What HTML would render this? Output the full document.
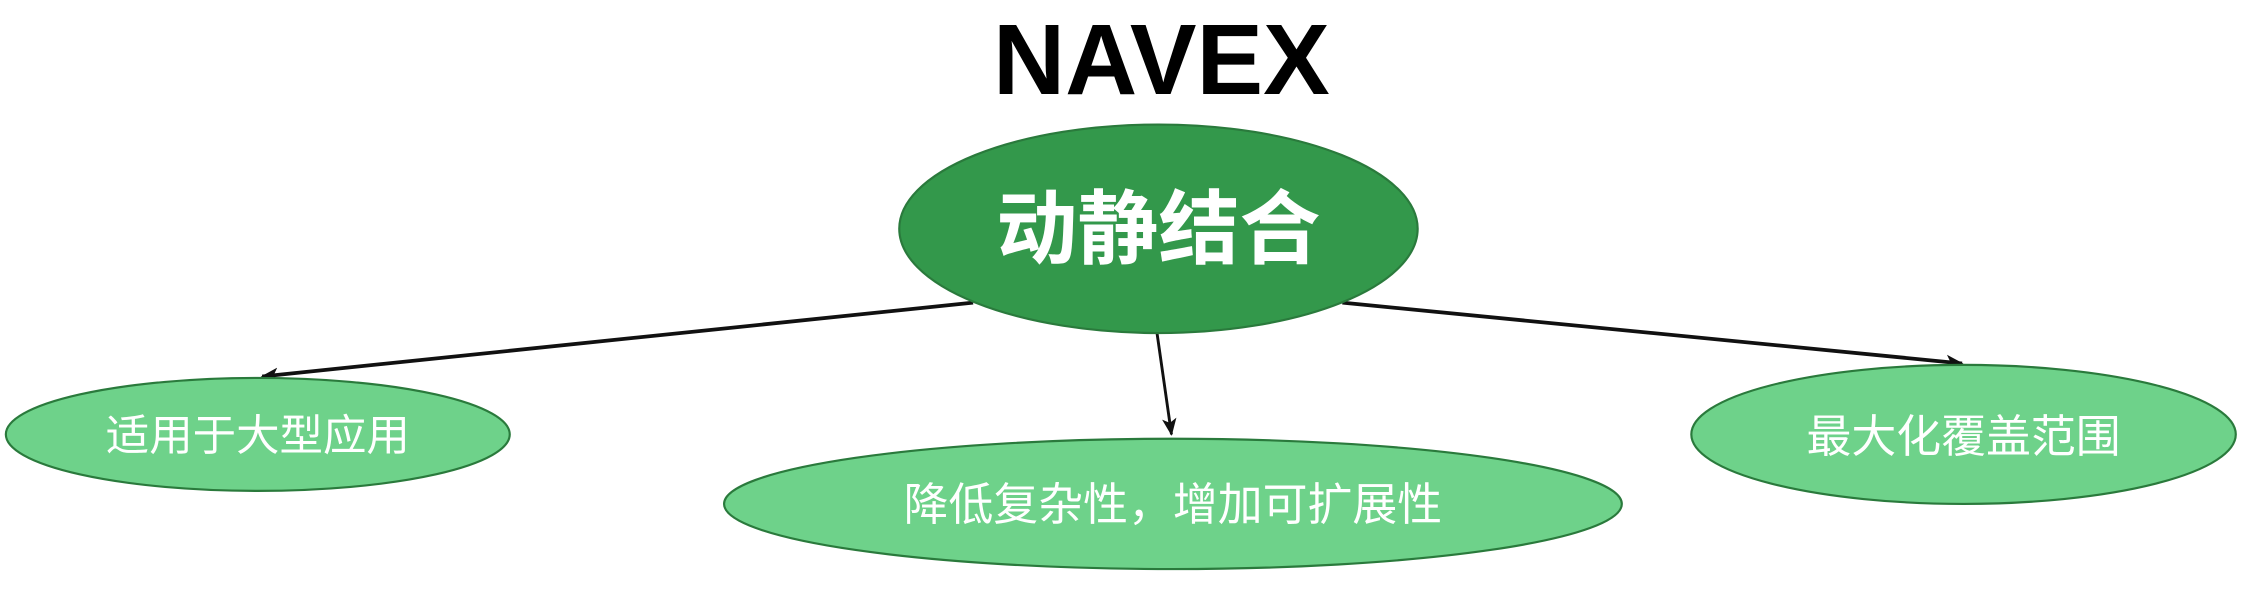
<!DOCTYPE html>
<html><head><meta charset="utf-8">
<style>
html,body{margin:0;padding:0;background:#fff;}
svg{display:block;}
</style></head>
<body>
<svg width="2259" height="596" viewBox="0 0 1560 411.6" xmlns="http://www.w3.org/2000/svg">
<defs>
<marker id="ah" markerWidth="12" markerHeight="10" refX="11" refY="5" orient="auto" markerUnits="userSpaceOnUse">
<path d="M0,0 L12,5 L0,10 L3,5 Z" fill="#111"/>
</marker>
</defs>
<text x="802" y="65" text-anchor="middle" font-family="Liberation Sans, sans-serif" font-weight="bold" font-size="69" fill="#000">NAVEX</text>

<line x1="672" y1="209" x2="181" y2="260" stroke="#111" stroke-width="2.6" marker-end="url(#ah)"/>
<line x1="799" y1="230" x2="809" y2="300" stroke="#111" stroke-width="2" marker-end="url(#ah)"/>
<line x1="927" y1="209" x2="1355" y2="251" stroke="#111" stroke-width="2.6" marker-end="url(#ah)"/>

<ellipse cx="800" cy="158" rx="179" ry="72" fill="#33984b" stroke="#2a7a3c" stroke-width="1.5"/>
<text x="800" y="178" text-anchor="middle" font-family="Liberation Sans, Noto Sans CJK SC, sans-serif" font-weight="bold" font-size="56" fill="#fff">动静结合</text>

<ellipse cx="178" cy="300" rx="174" ry="39" fill="#6ed28a" stroke="#2a7a3c" stroke-width="1.5"/>
<text x="178" y="311" text-anchor="middle" font-family="Liberation Sans, Noto Sans CJK SC, sans-serif" font-size="30" fill="#fff">适用于大型应用</text>

<ellipse cx="810" cy="348" rx="310" ry="45" fill="#6ed28a" stroke="#2a7a3c" stroke-width="1.5"/>
<text x="810" y="359" text-anchor="middle" font-family="Liberation Sans, Noto Sans CJK SC, sans-serif" font-size="31" fill="#fff">降低复杂性，增加可扩展性</text>

<ellipse cx="1356" cy="300" rx="188" ry="48" fill="#6ed28a" stroke="#2a7a3c" stroke-width="1.5"/>
<text x="1356" y="312" text-anchor="middle" font-family="Liberation Sans, Noto Sans CJK SC, sans-serif" font-size="31" fill="#fff">最大化覆盖范围</text>
</svg>
</body></html>
